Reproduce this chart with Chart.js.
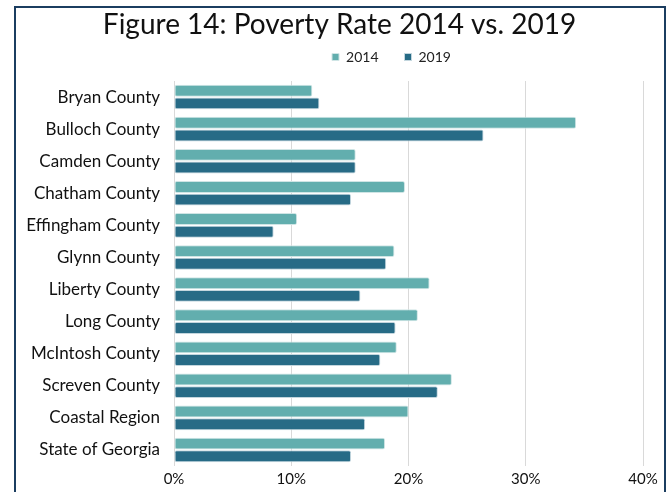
<!DOCTYPE html>
<html>
<head>
<meta charset="utf-8">
<script src="https://cdn.jsdelivr.net/npm/chart.js@4/dist/chart.umd.min.js"></script>
<style>
  html, body { margin: 0; padding: 0; background: #fff; }
  #wrap { position: relative; width: 671px; height: 492px; }
  #frame {
    position: absolute; left: 14px; top: 6px; width: 648px; height: 492px;
    border: 2.5px solid #1b3d60; border-bottom: none; pointer-events: none;
  }
  canvas { position: absolute; left: 0; top: 0; }
</style>
</head>
<body>
<div id="wrap">
  <canvas id="chartPobreza" width="671" height="492"></canvas>
  <div id="frame"></div>
</div>
<script>
const counties = [
    "Bryan County", "Bulloch County", "Camden County", "Chatham County",
    "Effingham County", "Glynn County", "Liberty County", "Long County",
    "McIntosh County", "Screven County", "Coastal Region", "State of Georgia"
];
const rate2014 = [11.8, 34.3, 15.5, 19.7, 10.5, 18.8, 21.8, 20.8, 19.0, 23.7, 20.0, 18.0];
const rate2019 = [12.4, 26.4, 15.5, 15.1, 8.5, 18.1, 15.9, 18.9, 17.6, 22.5, 16.3, 15.1];
const xTicks = [0, 10, 20, 30, 40];

const fontFamily = "Lato, 'Noto Sans', sans-serif";

// nudge title and legend boxes after layout (plot area stays where it is)
function moveBox(box, dx, dy) {
    box.left += dx; box.right += dx;
    box.top += dy; box.bottom += dy;
}
const boxOffsets = {
    id: "boxOffsets",
    afterLayout(chart) {
        moveBox(chart.titleBlock, 18, 8);
        moveBox(chart.legend, 70, -7);
    }
};

new Chart(document.getElementById("chartPobreza"), {
    type: "bar",
    data: {
        labels: counties,
        datasets: [{
            label: "2014",
            data: rate2014,
            backgroundColor: "#62aeae",
            borderColor: "#cfe5e5",
            borderWidth: 1,
            borderRadius: 2,
            borderSkipped: false,
            categoryPercentage: 0.79,
            barPercentage: 0.94
        }, {
            label: "2019",
            data: rate2019,
            backgroundColor: "#276b86",
            borderColor: "#c3d6de",
            borderWidth: 1,
            borderRadius: 2,
            borderSkipped: false,
            categoryPercentage: 0.79,
            barPercentage: 0.94
        }]
    },
    options: {
        indexAxis: "y",
        responsive: false,
        animation: false,
        layout: { padding: { left: 0, right: 28, top: 3, bottom: 0 } },
        plugins: {
            title: {
                display: true,
                text: "Figure 14: Poverty Rate 2014 vs. 2019",
                color: "#111",
                font: { family: fontFamily, size: 28, weight: "normal", lineHeight: 1.0 },
                padding: 0
            },
            legend: {
                display: true,
                labels: {
                    color: "#222",
                    font: { family: fontFamily, size: 14 },
                    boxWidth: 7,
                    boxHeight: 7,
                    padding: 26
                }
            },
            tooltip: { enabled: false }
        },
        scales: {
            x: {
                min: 0,
                max: 40,
                afterBuildTicks: (axis) => { axis.ticks = xTicks.map(v => ({ value: v })); },
                ticks: {
                    color: "#111",
                    font: { family: fontFamily, size: 15 },
                    callback: (v) => v + "%",
                    padding: 4
                },
                grid: { color: "#d9d9d9", drawTicks: false },
                border: { display: false }
            },
            y: {
                afterFit: (axis) => { axis.width = 174; },
                ticks: {
                    color: "#111",
                    font: { family: fontFamily, size: 17 },
                    padding: 14
                },
                grid: { display: false, drawTicks: false },
                border: { display: false }
            }
        }
    },
    plugins: [boxOffsets]
});
</script>
</body>
</html>
